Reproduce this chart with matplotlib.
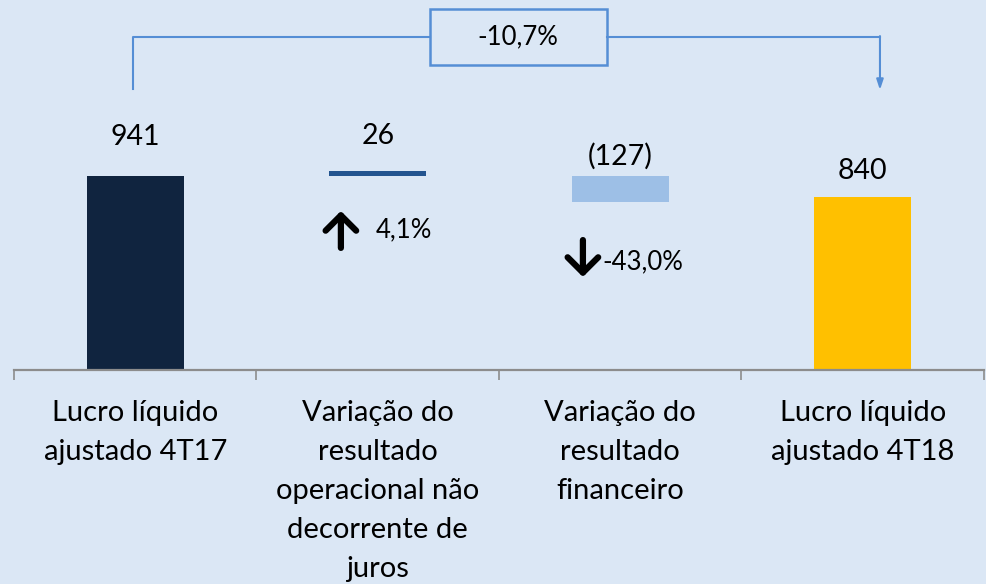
import matplotlib
matplotlib.use("Agg")
import matplotlib.pyplot as plt
from matplotlib.patches import Rectangle

# dados ------------------------------------------------------------
categorias = ["Lucro líquido\najustado 4T17",
              "Variação do\nresultado\noperacional não\ndecorrente de\njuros",
              "Variação do\nresultado\nfinanceiro",
              "Lucro líquido\najustado 4T18"]
valores = [941, 26, -127, 840]
rotulos = ["941", "26", "(127)", "840"]
variacoes = ["4,1%", "-43,0%"]
variacao_total = "-10,7%"

# bases do waterfall
bases = [0, valores[0], valores[0] + valores[2], 0]
alturas = [valores[0], valores[1], -valores[2], valores[3]]
cores = ["#10243F", "#23548F", "#9DBFE6", "#FFC000"]
offsets = [39, 35, 20, 26]  # px acima da barra

fundo = "#DBE7F5"
azul = "#558ED5"

plt.rcParams['font.family'] = ['Lato', 'DejaVu Sans']

fig = plt.figure(figsize=(9.87, 5.84), dpi=100)
fig.patch.set_facecolor(fundo)
ax = fig.add_axes([14/987, 214/584, 970/987, 370/584])
ax.set_facecolor(fundo)
ax.set_xlim(-0.5, 3.5)
ax.set_ylim(0, 1794)

x = range(len(valores))
ax.bar(x, alturas, bottom=bases, width=0.4, color=cores, zorder=2)

for i in x:
    topo = bases[i] + alturas[i]
    ax.annotate(rotulos[i], (i, topo), xytext=(0, offsets[i]),
                textcoords='offset pixels', ha='center', va='center',
                fontsize=20.5, color='black')

# eixo
for s in ['top', 'right', 'left']:
    ax.spines[s].set_visible(False)
ax.spines['bottom'].set_color('#8C8C8C')
ax.spines['bottom'].set_linewidth(1.6)
ax.set_yticks([])
ax.set_xticks([-0.5, 0.5, 1.5, 2.5, 3.5])
ax.set_xticklabels([])
ax.tick_params(axis='x', length=7, width=1.2, color='#8C8C8C')

for i, c in enumerate(categorias):
    ax.text(i, -0.082, c, transform=ax.get_xaxis_transform(), ha='center',
            va='top', fontsize=21, linespacing=1.62)

# setas de variacao
seta = dict(arrowstyle='->,head_width=0.55,head_length=0.55', lw=4.5,
            color='black', capstyle='round', joinstyle='round',
            shrinkA=0, shrinkB=0, mutation_scale=20)
ax.annotate('', xy=(0.848, 771), xytext=(0.848, 592), arrowprops=seta)
ax.text(0.993, 679, variacoes[0], ha='left', va='center', fontsize=18.5)
ax.annotate('', xy=(1.846, 451), xytext=(1.846, 630), arrowprops=seta)
ax.text(1.925, 524, variacoes[1], ha='left', va='center', fontsize=18.5)

# chave de variacao total
yb = 1615
ax.plot([-0.009, -0.009, 1.215], [1363, yb, yb], color=azul, lw=1.5,
        clip_on=False)
ax.plot([1.945, 3.071], [yb, yb], color=azul, lw=1.5, clip_on=False)
ax.annotate('', xy=(3.071, 1358), xytext=(3.071, yb + 4),
            arrowprops=dict(arrowstyle='-|>,head_width=0.2,head_length=0.6',
                            lw=1.5, color=azul, shrinkA=0, shrinkB=0))
ax.add_patch(Rectangle((1.215, 1479), 0.73, 272, facecolor=fundo,
                       edgecolor=azul, lw=1.8, clip_on=False))
ax.text(1.578, yb, variacao_total, ha='center', va='center', fontsize=18.5)

fig.savefig("out.png", dpi=100, facecolor=fundo)
